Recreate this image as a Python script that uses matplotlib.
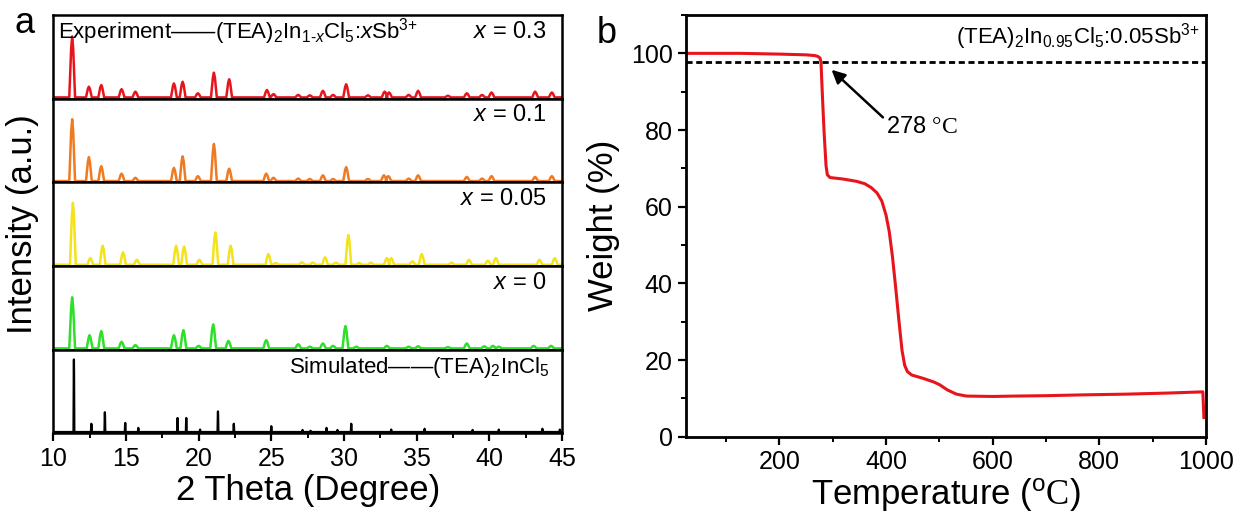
import numpy as np
import matplotlib
matplotlib.use("Agg")
from matplotlib import pyplot as plt
from matplotlib.ticker import MultipleLocator

plt.rcParams['font.family'] = ['Liberation Sans', 'DejaVu Sans']
plt.rcParams['mathtext.fontset'] = 'custom'
plt.rcParams['mathtext.rm'] = 'Liberation Sans'
plt.rcParams['mathtext.it'] = 'Liberation Sans:italic'
plt.rcParams['mathtext.bf'] = 'Liberation Sans:bold'
plt.rcParams['mathtext.sf'] = 'Liberation Serif'

# ---- XRD peak lists (2 theta in degrees, intensity in % of panel height) ----
pos_x03 = [11.3, 12.45, 13.3, 14.7, 15.65, 18.3, 18.9, 19.95, 21.05, 22.1, 24.7, 25.15,
           26.85, 27.65, 28.55, 29.25, 30.15, 31.65, 32.8, 33.1, 34.45, 35.1, 37.15,
           38.45, 39.5, 40.15, 43.15, 44.3]
int_x03 = [74, 13, 15, 10, 7, 17, 19, 5, 30, 22, 9, 4, 3, 2.5, 8, 3, 16, 2.5, 7, 6, 3, 8,
           2, 5, 3, 6, 7, 6]

pos_x01 = [11.3, 12.45, 13.3, 14.7, 15.65, 18.3, 18.9, 19.95, 21.05, 22.1, 24.65, 25.15,
           26.85, 27.65, 28.55, 29.25, 30.15, 31.65, 32.75, 33.05, 34.45, 35.1, 38.45,
           39.5, 40.15, 43.15, 44.3]
int_x01 = [75, 29, 18, 9, 4, 16, 30, 6, 45, 15, 9, 4, 3, 2.5, 7, 2.5, 17, 2.5, 7, 6, 3, 7,
           5, 3, 6, 5, 6]

pos_x005 = [11.35, 12.55, 13.4, 14.8, 15.75, 18.45, 19.0, 20.05, 21.15, 22.2, 24.8, 25.3,
            27.1, 27.85, 28.7, 29.45, 30.3, 31.05, 31.85, 32.95, 33.25, 34.7, 35.35, 37.4,
            38.6, 39.9, 40.45, 43.45, 44.5]
int_x005 = [75, 8, 23, 15, 6, 23, 22, 6, 39, 23, 13, 2, 3, 2.5, 9, 2.5, 36, 2, 2.5, 8, 8,
            4, 13, 2.5, 6, 5, 8, 6, 8]

pos_x0 = [11.3, 12.5, 13.3, 14.7, 15.65, 18.3, 18.95, 20.0, 21.0, 22.05, 24.65, 26.85,
          27.65, 28.55, 29.25, 30.1, 30.85, 32.95, 34.45, 35.1, 37.15, 38.45, 39.65, 40.25,
          40.65, 43.05, 44.25]
int_x0 = [62, 16, 21, 8, 4, 16, 22, 3, 29, 9, 10, 5, 2, 6, 3, 27, 2, 3, 2, 2.5, 1.5, 6,
          2.5, 3, 2, 3, 3]

pos_sim = [11.42, 12.62, 13.55, 14.95, 15.85, 18.55, 19.15, 20.1, 21.33, 22.42, 25.0,
           27.15, 27.7, 28.8, 29.55, 30.5, 33.25, 35.55, 38.85, 40.65, 43.65, 44.85]
int_sim = [88, 10, 24, 11, 5, 17, 17, 3, 25, 10, 7, 2.5, 1.5, 5, 2.5, 10, 3, 4, 2.5, 3, 4, 3]

labels_xrd = ["$x$ = 0.3", "$x$ = 0.1", "$x$ = 0.05", "$x$ = 0", None]
colors_xrd = ["#e8141c", "#f07a22", "#f4e21a", "#2ee02a", "black"]

# ---- TGA curve ----
temp = [25, 60, 126, 200, 251, 267, 272, 276, 278, 281, 284, 287.5, 290, 295, 320, 345,
        360, 372, 383, 392, 400, 406, 412, 418, 424, 430, 435, 440, 448, 470, 489, 500,
        515, 532, 551, 600, 640, 700, 764, 805, 850, 931, 994, 996]
weight = [100, 100, 100, 99.8, 99.6, 99.4, 99.2, 98.8, 97.8, 88, 79, 70.7, 68.3, 67.6,
          67.2, 66.6, 66.0, 65.0, 63.6, 61.5, 57.8, 53.5, 47.0, 39.0, 30.5, 22.5, 18.6,
          17.0, 16.1, 15.2, 14.3, 13.6, 12.2, 11.1, 10.6, 10.5, 10.6, 10.7, 10.9, 11.0,
          11.1, 11.4, 11.7, 5.0]
onset_temp = 278
onset_weight = 97.8


def peak_trace(positions, heights, half_width):
    """Build a polyline of narrow spikes on a flat baseline from 10 to 45 degrees."""
    xs, ys = [10.0], [0.0]
    for p, h in sorted(zip(positions, heights)):
        xs += [p - half_width, p - half_width * 0.35, p, p + half_width * 0.35, p + half_width]
        ys += [0, h * 0.8, h, h * 0.8, 0]
    xs.append(45.0)
    ys.append(0.0)
    return np.array(xs), np.array(ys)


fig = plt.figure(figsize=(12.39, 5.17), dpi=100)

# ---------------- panel a: stacked XRD patterns ----------------
gs = fig.add_gridspec(5, 1, left=0.043, right=0.4536, bottom=0.162, top=0.971, hspace=0)
series = [(pos_x03, int_x03), (pos_x01, int_x01), (pos_x005, int_x005),
          (pos_x0, int_x0), (pos_sim, int_sim)]
axes_a = []
for i, ((pos, inten), lab, col) in enumerate(zip(series, labels_xrd, colors_xrd)):
    ax = fig.add_subplot(gs[i])
    if i < 4:
        xs, ys = peak_trace(pos, inten, 0.2)
        ax.plot(xs, ys, color=col, lw=1.8)
    else:
        xs, ys = peak_trace(pos, inten, 0.03)
        ax.plot(xs, ys, color=col, lw=1.6)
    ax.set_xlim(10, 45)
    ax.set_ylim(-1.5, 100)
    ax.set_yticks([])
    for s in ax.spines.values():
        s.set_linewidth(1.8)
    if lab is not None:
        ax.text(0.97, 0.93, lab, transform=ax.transAxes, ha='right', va='top', fontsize=17)
    if i < 4:
        ax.tick_params(axis='x', which='both', bottom=False, labelbottom=False)
    axes_a.append(ax)

axes_a[0].text(0.01, 0.99,
               "Experiment\u2014\u2014(TEA)$_2$In$_{1\\text{-}x}$Cl$_5$:$x$Sb$^{\\text{3+}}$",
               transform=axes_a[0].transAxes, ha='left', va='top', fontsize=16)
axes_a[4].text(0.975, 0.93, "Simulated\u2014\u2014(TEA)$_2$InCl$_5$",
               transform=axes_a[4].transAxes, ha='right', va='top', fontsize=16)

axb = axes_a[4]
axb.xaxis.set_major_locator(MultipleLocator(5))
axb.xaxis.set_minor_locator(MultipleLocator(2.5))
axb.tick_params(axis='x', which='major', direction='out', length=6, width=1.6,
                labelsize=18, pad=4)
axb.tick_params(axis='x', which='minor', direction='out', length=3.5, width=1.4)
axb.set_xlabel("2 Theta (Degree)", fontsize=25, labelpad=2)
fig.text(0.018, 0.566, "Intensity (a.u.)", rotation=90, fontsize=25, ha='center', va='center')
fig.text(0.020, 0.955, "a", fontsize=26, ha='center', va='center')

# ---------------- panel b: TGA ----------------
ax2 = fig.add_axes([0.5537, 0.1553, 0.4197, 0.8157])
ax2.plot(temp, weight, color="#e8141c", lw=2.2)
ax2.axhline(onset_weight, color='black', lw=2, dashes=(2.2, 1.3))
ax2.set_xlim(25, 1000)
ax2.set_ylim(0, 110)
ax2.xaxis.set_major_locator(MultipleLocator(200))
ax2.xaxis.set_minor_locator(MultipleLocator(100))
ax2.yaxis.set_major_locator(MultipleLocator(20))
ax2.yaxis.set_minor_locator(MultipleLocator(10))
ax2.set_yticks([0, 20, 40, 60, 80, 100])
ax2.tick_params(which='major', direction='out', length=6, width=1.6, labelsize=18)
ax2.tick_params(which='minor', direction='out', length=3.5, width=1.4)
for s in ax2.spines.values():
    s.set_linewidth(2)
ax2.set_xlabel("Temperature ($\\mathregular{^o}\\mathsf{C}$)", fontsize=25, labelpad=2)
ax2.set_ylabel("Weight (%)", fontsize=25, labelpad=8)

ax2.annotate("", xy=(onset_temp + 16, onset_weight - 1.6), xytext=(onset_temp + 120, onset_weight - 15),
             arrowprops=dict(arrowstyle='-|>', color='black', lw=1.8, mutation_scale=20))
ax2.text(onset_temp + 122, onset_weight - 17, "278 $\\mathsf{\u00b0C}$", fontsize=17,
         ha='left', va='center')
ax2.text(0.988, 0.985, "(TEA)$_2$In$_{0.95}$Cl$_5$:0.05Sb$^{\\text{3+}}$", transform=ax2.transAxes,
         ha='right', va='top', fontsize=16)
fig.text(0.49, 0.935, "b", fontsize=26, ha='center', va='center')

fig.savefig("out.png", dpi=100)
